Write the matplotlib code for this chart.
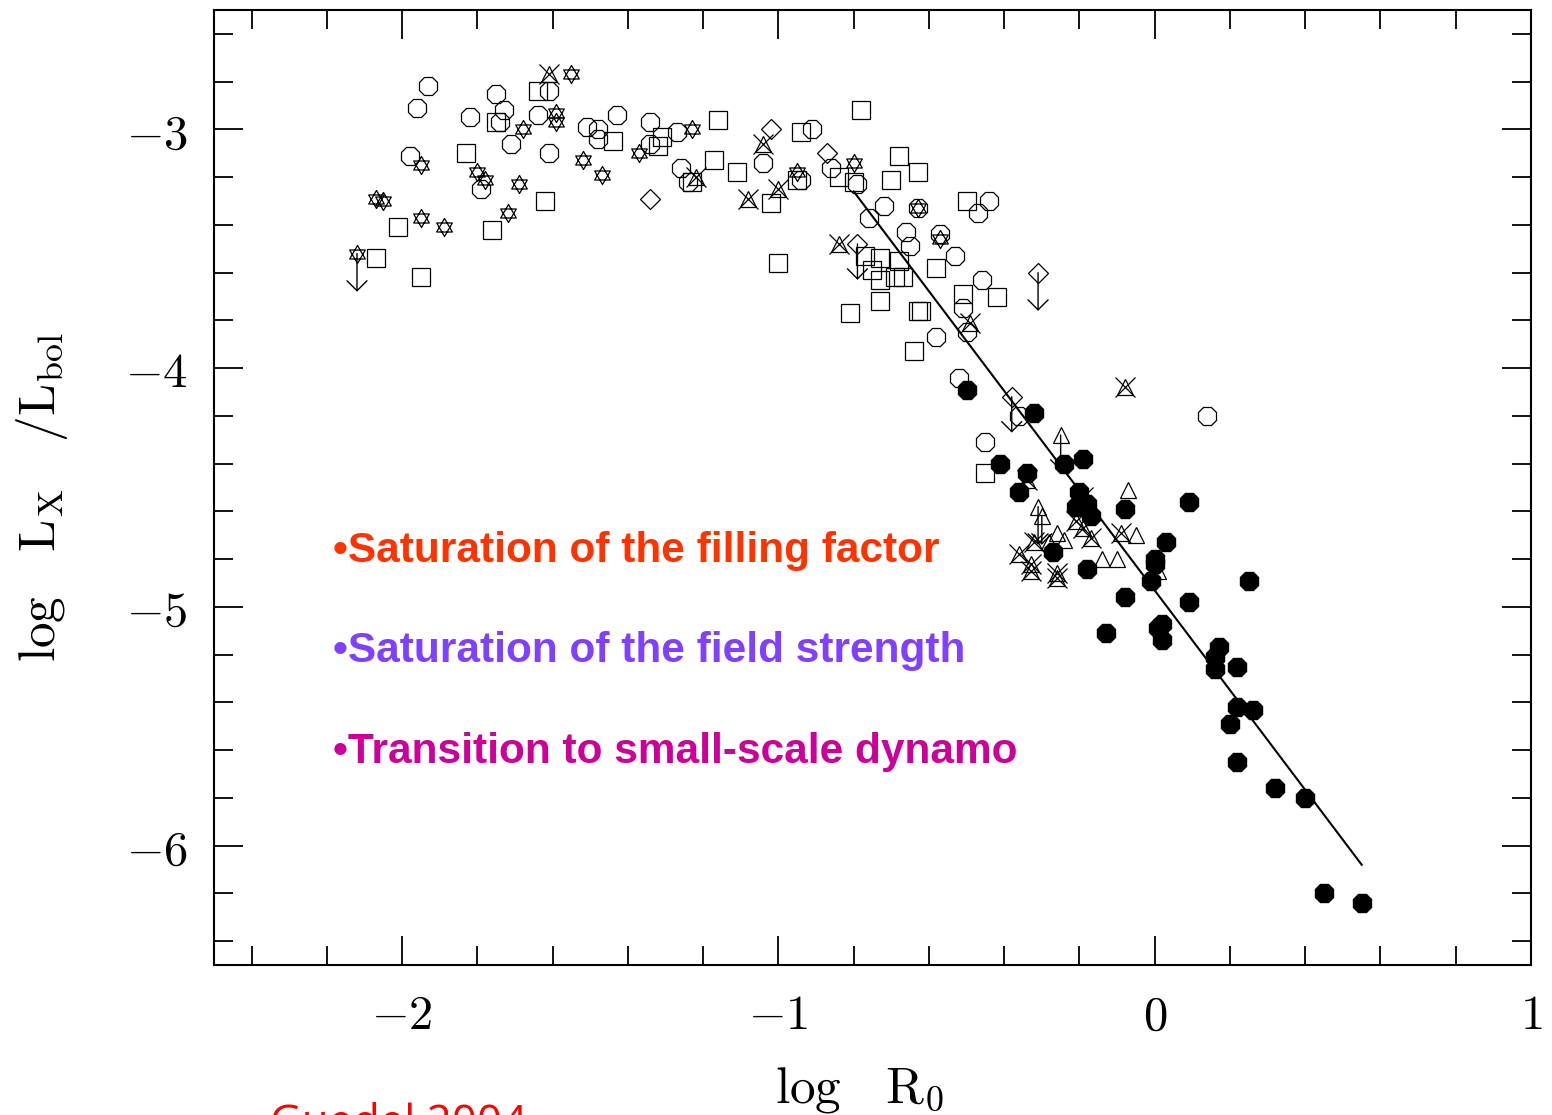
import matplotlib
matplotlib.use("Agg")
import matplotlib.pyplot as plt
from matplotlib.path import Path
from matplotlib import font_manager

# open octagons
oct_x = [-1.93, -1.96, -1.75, -1.73, -1.82, -1.74, -1.64, -1.71, -1.61, -1.98,
         -1.61, -1.79, -1.43, -1.51, -1.48, -1.48, -1.34, -1.27, -1.34, -1.26,
         -1.24, -0.91, -1.04, -0.94, -0.86, -0.79, -0.72, -0.76, -0.66, -0.65,
         -0.57, -0.53, -0.63, -0.44, -0.47, -0.46, -0.51, -0.50, -0.58, -0.52,
         -0.36, 0.14, -0.45]
oct_y = [-2.82, -2.91, -2.85, -2.92, -2.95, -2.97, -2.94, -3.06, -2.84, -3.11,
         -3.10, -3.25, -2.94, -2.99, -3.00, -3.04, -2.97, -3.01, -3.06, -3.16,
         -3.22, -3.00, -3.14, -3.21, -3.16, -3.23, -3.32, -3.37, -3.43, -3.49,
         -3.44, -3.53, -3.33, -3.30, -3.35, -3.63, -3.75, -3.85, -3.87, -4.04,
         -4.20, -4.20, -4.31]

# open squares
sq_x = [-1.64, -1.75, -1.83, -1.62, -2.01, -1.76, -2.07, -1.95, -1.44, -1.31,
        -1.32, -1.16, -1.17, -1.11, -1.23, -0.94, -1.02, -0.95, -0.84, -0.80,
        -0.78, -0.68, -0.63, -0.70, -1.00, -0.77, -0.73, -0.68, -0.75, -0.73,
        -0.69, -0.67, -0.58, -0.50, -0.42, -0.51, -0.73, -0.81, -0.63, -0.62,
        -0.64, -0.45]
sq_y = [-2.84, -2.97, -3.10, -3.30, -3.41, -3.42, -3.54, -3.62, -3.05, -3.03,
        -3.07, -2.96, -3.13, -3.18, -3.22, -3.01, -3.31, -3.21, -3.20, -3.22,
        -2.92, -3.11, -3.18, -3.21, -3.56, -3.53, -3.54, -3.55, -3.59, -3.63,
        -3.62, -3.62, -3.58, -3.30, -3.70, -3.69, -3.72, -3.77, -3.76, -3.76,
        -3.93, -4.44]

# six-pointed stars
star_x = [-1.95, -1.68, -1.80, -1.78, -1.69, -2.07, -2.05, -1.95, -1.89, -1.72,
          -2.12, -1.59, -1.59, -1.55, -1.52, -1.47, -1.37, -1.23, -0.95, -0.80,
          -0.57, -0.63]
star_y = [-3.15, -3.00, -3.18, -3.21, -3.23, -3.29, -3.30, -3.37, -3.41, -3.35,
          -3.52, -2.93, -2.97, -2.77, -3.13, -3.19, -3.10, -3.00, -3.18, -3.14,
          -3.46, -3.33]

# crossed triangles
xt_x = [-1.61, -1.22, -1.04, -1.08, -1.00, -0.84, -0.49, -0.08, -0.34, -0.19,
        -0.21, -0.19, -0.17, -0.09, -0.32, -0.36, -0.33, -0.33, -0.26, -0.26]
xt_y = [-2.77, -3.20, -3.06, -3.29, -3.25, -3.48, -3.81, -4.08, -4.47, -4.54,
        -4.64, -4.67, -4.71, -4.69, -4.73, -4.78, -4.82, -4.85, -4.86, -4.88]

# open triangles
tri_x = [-0.25, -0.07, -0.31, -0.30, -0.26, -0.24, -0.28, -0.05, -0.14, -0.10, 0.01]
tri_y = [-4.28, -4.51, -4.58, -4.62, -4.69, -4.72, -4.73, -4.70, -4.80, -4.80, -4.85]

# open diamonds
dia_x = [-1.34, -1.02, -0.87, -0.79, -0.31, -0.38]
dia_y = [-3.29, -3.00, -3.10, -3.48, -3.60, -4.12]

# filled circles
fil_x = [-0.50, -0.32, -0.41, -0.34, -0.36, -0.24, -0.19, -0.20, -0.21, -0.18,
         -0.17, -0.08, 0.09, -0.27, -0.18, 0.03, 0.00, 0.00, -0.01, -0.08,
         0.09, 0.25, -0.13, 0.02, 0.01, 0.02, 0.17, 0.16, 0.16, 0.22,
         0.22, 0.26, 0.20, 0.22, 0.32, 0.40, 0.45, 0.55]
fil_y = [-4.09, -4.19, -4.40, -4.44, -4.52, -4.40, -4.38, -4.52, -4.58, -4.57,
         -4.62, -4.59, -4.56, -4.77, -4.84, -4.73, -4.80, -4.82, -4.89, -4.96,
         -4.98, -4.89, -5.11, -5.07, -5.09, -5.14, -5.17, -5.21, -5.26, -5.25,
         -5.42, -5.43, -5.49, -5.65, -5.76, -5.80, -6.20, -6.24]

# upper limits (down arrows)
lim_x = [-2.12, -0.79, -0.31, -0.38, -0.25, -0.31, -0.30]
lim_y = [-3.52, -3.48, -3.60, -4.12, -4.28, -4.58, -4.62]
lim_len = [0.16, 0.15, 0.16, 0.15, 0.15, 0.16, 0.12]

# fitted relation
fit_x = [-0.80, 0.55]
fit_y = [-3.26, -6.08]

x_major = [-2, -1, 0, 1]
x_labels = [r"$-2$", r"$-1$", r"$0$", r"$1$"]
y_major = [-6, -5, -4, -3]
y_labels = [r"$-6$", r"$-5$", r"$-4$", r"$-3$"]

notes = ["\u2022Saturation of the filling factor",
         "\u2022Saturation of the field strength",
         "\u2022Transition to small-scale dynamo"]
note_colors = ["#FF3300", "#8040FF", "#CC0099"]

plt.rcParams["mathtext.fontset"] = "cm"

names = {f.name for f in font_manager.fontManager.ttflist}
if "Liberation Sans Narrow" in names:
    note_font, note_size = "Liberation Sans Narrow", 37
else:
    note_font, note_size = "Liberation Sans", 30.5

fig = plt.figure(figsize=(15.52, 11.15), dpi=100)
ax = fig.add_axes([214 / 1552, 1 - 965 / 1115, 1317 / 1552, 955 / 1115])

star = Path([(0, 1), (-0.866, -0.5), (0.866, -0.5), (0, 1),
             (0, -1), (0.866, 0.5), (-0.866, 0.5), (0, -1)],
            [Path.MOVETO, Path.LINETO, Path.LINETO, Path.CLOSEPOLY,
             Path.MOVETO, Path.LINETO, Path.LINETO, Path.CLOSEPOLY])

opn = dict(ls="none", mfc="none", mec="black", mew=0.9)
ax.plot(oct_x, oct_y, marker="8", ms=14, **opn)
ax.plot(sq_x, sq_y, marker="s", ms=13, **opn)
ax.plot(star_x, star_y, marker=star, ms=13, **opn)
ax.plot(xt_x, xt_y, marker="^", ms=12, **opn)
ax.plot(xt_x, xt_y, marker="x", ms=15, **opn)
ax.plot(tri_x, tri_y, marker="^", ms=12, **opn)
ax.plot(dia_x, dia_y, marker="D", ms=10.5, **opn)
ax.plot(fil_x, fil_y, ls="none", marker="8", ms=13.5, color="black", zorder=3)

for x, y, d in zip(lim_x, lim_y, lim_len):
    ax.annotate("", xy=(x, y - d), xytext=(x, y),
                arrowprops=dict(arrowstyle="->,head_length=0.6,head_width=0.6",
                                lw=1.0, color="black", shrinkA=0, shrinkB=0,
                                mutation_scale=12))

ax.plot(fit_x, fit_y, color="black", lw=1.5)

ax.set_xlim(-2.5, 1)
ax.set_ylim(-6.5, -2.5)
ax.set_xticks(x_major, labels=x_labels)
ax.set_yticks(y_major, labels=y_labels)
ax.xaxis.set_minor_locator(matplotlib.ticker.MultipleLocator(0.2))
ax.yaxis.set_minor_locator(matplotlib.ticker.MultipleLocator(0.2))
ax.tick_params(which="both", direction="in", top=True, right=True, width=1.3)
ax.tick_params(which="major", length=21, labelsize=35, pad=19)
ax.tick_params(which="minor", length=13.5)
for s in ax.spines.values():
    s.set_linewidth(1.5)

ax.set_xlabel(r"$\mathrm{log}\ \ \ \mathrm{R}_{0}$", fontsize=37)
ax.xaxis.set_label_coords(0.49, -0.105)
ax.set_ylabel(r"$\mathrm{log}\ \ \ \mathrm{L}_{\mathrm{X}}\ \ \ /\mathrm{L}_{\mathrm{bol}}$",
              fontsize=37)
ax.yaxis.set_label_coords(-0.109, 0.49)

for i, (t, c) in enumerate(zip(notes, note_colors)):
    ax.text(0.09, 0.4335 - i * 0.105, t, transform=ax.transAxes, color=c,
            fontsize=note_size, fontweight="bold", family=note_font,
            ha="left", va="center")

fig.text(270 / 1552, -0.019, "Guedel 2004", color="#FF0000", fontsize=31.5,
         family="Open Sans", ha="left", va="baseline")

fig.savefig("out.png", dpi=100)
